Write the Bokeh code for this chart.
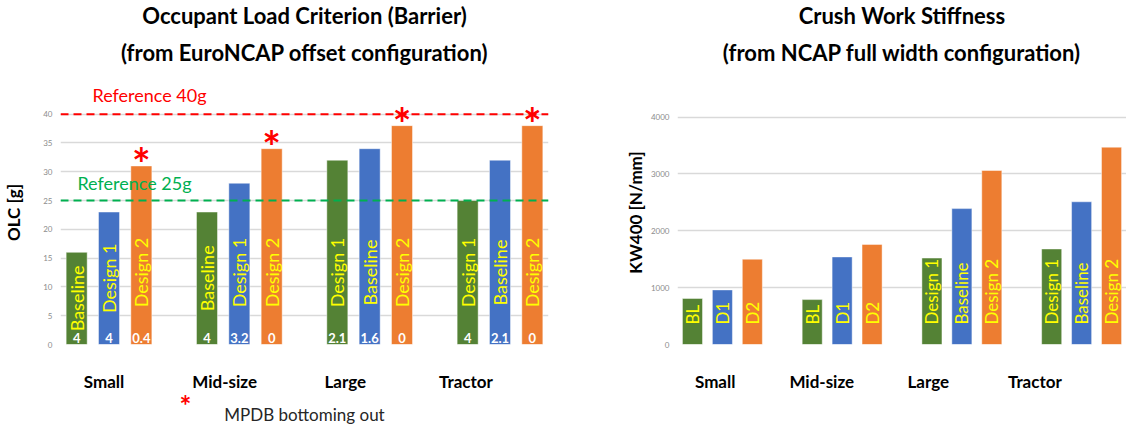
from math import pi

from bokeh.core.properties import value
from bokeh.embed import file_html
from bokeh.layouts import row
from bokeh.models import (ColumnDataSource, FixedTicker, Label, LinearAxis,
                          Range1d, Span, Title)
from bokeh.plotting import figure
from bokeh.resources import INLINE

categories = ["Small", "Mid-size", "Large", "Tractor"]

# Occupant Load Criterion [g], three bars per vehicle class (green, blue, orange)
olc_green = [16, 23, 32, 25]
olc_blue = [23, 28, 34, 32]
olc_orange = [31, 34, 38, 38]
olc_green_names = ["Baseline", "Baseline", "Design 1", "Design 1"]
olc_blue_names = ["Design 1", "Design 1", "Baseline", "Baseline"]
olc_orange_names = ["Design 2", "Design 2", "Design 2", "Design 2"]
olc_green_notes = ["4", "4", "2.1", "4"]
olc_blue_notes = ["4", "3.2", "1.6", "2.1"]
olc_orange_notes = ["0.4", "0", "0", "0"]
olc_ticks = [0, 5, 10, 15, 20, 25, 30, 35, 40]
olc_references = [40, 25]
olc_reference_names = ["Reference 40g", "Reference 25g"]
olc_reference_colors = ["#FF0000", "#00B050"]

# Crush work stiffness KW400 [N/mm]
kw_green = [810, 790, 1520, 1680]
kw_blue = [960, 1540, 2390, 2510]
kw_orange = [1500, 1760, 3060, 3470]
kw_green_names = ["BL", "BL", "Design 1", "Design 1"]
kw_blue_names = ["D1", "D1", "Baseline", "Baseline"]
kw_orange_names = ["D2", "D2", "Design 2", "Design 2"]
kw_ticks = [0, 1000, 2000, 3000, 4000]

COLORS = ["#548235", "#4472C4", "#ED7D31"]
FONT = "Lato"
GRID = "#D9D9D9"
N_SLOTS = 3


def bar_positions(slot, gap):
    """Centre of a bar: one unit per bar, `gap` units between vehicle classes."""
    return [g * (N_SLOTS + gap) + slot + 0.5 for g in range(len(categories))]


def plain_axis(ax):
    ax.axis_line_color = None
    ax.major_tick_line_color = None
    ax.minor_tick_line_color = None
    ax.major_tick_out = 0
    ax.major_tick_in = 0


def base_figure(width, border_left, border_right, y_end, gap, label_range, ticks,
                y_label, label_standoff, title_lines, title_offset):
    x_end = len(categories) * N_SLOTS + (len(categories) - 1) * gap
    p = figure(width=width, height=427, output_backend="svg", toolbar_location=None,
               x_range=Range1d(0, x_end), y_range=Range1d(0, y_end),
               x_axis_location=None, title=None,
               min_border_left=border_left, min_border_right=border_right,
               min_border_bottom=80, min_border_top=80)
    p.outline_line_color = None
    p.background_fill_color = "white"
    p.border_fill_color = "white"
    p.xgrid.visible = False
    p.ygrid.ticker = FixedTicker(ticks=ticks)
    p.ygrid.grid_line_color = GRID
    p.ygrid.grid_line_width = 1.5

    # two centred title lines, the second one nearest the plot
    for text, standoff in zip(reversed(title_lines), (29, -12)):
        p.add_layout(Title(text=text, align="center", offset=title_offset,
                           standoff=standoff, text_font=FONT, text_font_size="22px",
                           text_font_style="bold", text_color="black"), "above")

    yax = p.yaxis[0]
    plain_axis(yax)
    yax.ticker = FixedTicker(ticks=ticks)
    yax.major_label_text_font = FONT
    yax.major_label_text_font_size = "8px"
    yax.major_label_text_color = "#8C8C8C"
    yax.major_label_standoff = 8
    yax.axis_label = y_label
    yax.axis_label_text_font = FONT
    yax.axis_label_text_font_size = "17px"
    yax.axis_label_text_font_style = "bold"
    yax.axis_label_text_color = "black"
    yax.axis_label_standoff = label_standoff

    # Category names on their own axis below the bars
    p.extra_x_ranges = {"lbl": Range1d(*label_range)}
    xax = LinearAxis(x_range_name="lbl",
                     ticker=FixedTicker(ticks=[i + 0.5 for i in range(len(categories))]),
                     major_label_overrides={i + 0.5: c for i, c in enumerate(categories)})
    plain_axis(xax)
    xax.major_label_standoff = 26
    xax.major_label_text_font = FONT
    xax.major_label_text_font_size = "17px"
    xax.major_label_text_font_style = "bold"
    xax.major_label_text_color = "black"
    p.add_layout(xax, "below")
    return p


def add_bars(p, series, names, gap, bar_width, name_size, name_y=None, name_cap=None):
    sources = []
    for slot, (color, vals, labels) in enumerate(zip(COLORS, series, names)):
        src = ColumnDataSource(dict(x=bar_positions(slot, gap), top=vals, name=labels))
        p.vbar(x="x", top="top", width=bar_width, source=src, fill_color=color,
               line_color="#FFFFFF", line_alpha=0.45, line_width=1)
        if name_cap is not None:
            # series name centred in the bar, but no higher than name_cap
            src.data["name_y"] = [min(v / 2, name_cap) for v in vals]
            p.text(x="x", y="name_y", text="name", source=src, angle=pi / 2,
                   text_align="center", text_baseline="middle", text_color="#FFFF00",
                   text_font=value(FONT), text_font_size=name_size)
        else:
            p.text(x="x", y=name_y, text="name", source=src, angle=pi / 2,
                   text_align="left", text_baseline="middle", text_color="#FFFF00",
                   text_font=value(FONT), text_font_size=name_size)
        sources.append(src)
    return sources


# ---- Left: Occupant Load Criterion ----
OLC_GAP = 1.03
left = base_figure(width=560, border_left=60, border_right=12, y_end=45.84, gap=OLC_GAP,
                   label_range=(0.139, 4.185), ticks=olc_ticks, y_label="OLC [g]",
                   label_standoff=16, title_offset=9,
                   title_lines=["Occupant Load Criterion (Barrier)",
                                "(from EuroNCAP offset configuration)"])

for level, color in zip(olc_references, olc_reference_colors):
    left.add_layout(Span(location=level, dimension="width", line_color=color,
                         line_dash="8 5", line_width=2))

left_sources = add_bars(left, [olc_green, olc_blue, olc_orange],
                        [olc_green_names, olc_blue_names, olc_orange_names],
                        gap=OLC_GAP, bar_width=0.65, name_size="18px", name_cap=12.5)

for src, notes in zip(left_sources, [olc_green_notes, olc_blue_notes, olc_orange_notes]):
    src.data["note"] = notes
    left.text(x="x", y=0, text="note", source=src, text_align="center",
              text_baseline="bottom", y_offset=-2, text_color="white",
              text_font=value(FONT), text_font_size="13px", text_font_style="bold")

# MPDB bottoming-out marker above every Design 2 bar
left.text(x="x", y="top", text=value("*"), source=left_sources[2], text_align="center",
          text_baseline="middle", y_offset=-3, text_color="#FF0000",
          text_font=value(FONT), text_font_size="44px", text_font_style="bold")

left.add_layout(Label(x=0.404, y=43.4, x_range_name="lbl", text=olc_reference_names[0],
                      text_color=olc_reference_colors[0], text_font=FONT,
                      text_font_size="18px", text_baseline="middle"))
left.add_layout(Label(x=0.279, y=28.0, x_range_name="lbl", text=olc_reference_names[1],
                      text_color=olc_reference_colors[1], text_font=FONT,
                      text_font_size="18px", text_baseline="middle"))

# footnote: red asterisk as a tick label, its meaning as the axis label
FOOTNOTE_X = 1.175
note_ax = LinearAxis(x_range_name="lbl", ticker=FixedTicker(ticks=[FOOTNOTE_X]),
                     major_label_overrides={FOOTNOTE_X: "*"},
                     axis_label="MPDB bottoming out")
plain_axis(note_ax)
note_ax.major_label_standoff = -7
note_ax.major_label_text_font = FONT
note_ax.major_label_text_font_size = "28px"
note_ax.major_label_text_font_style = "bold"
note_ax.major_label_text_color = "#FF0000"
note_ax.axis_label_standoff = -21
note_ax.axis_label_text_font = FONT
note_ax.axis_label_text_font_size = "17px"
note_ax.axis_label_text_font_style = "normal"
note_ax.axis_label_text_color = "#262626"
left.add_layout(note_ax, "below")

# ---- Right: Crush Work Stiffness ----
KW_GAP = 1.0
right = base_figure(width=566, border_left=117, border_right=0, y_end=4643, gap=KW_GAP,
                    label_range=(0.146, 4.36), ticks=kw_ticks, y_label="KW400 [N/mm]",
                    label_standoff=2, title_offset=-4,
                    title_lines=["Crush Work Stiffness",
                                 "(from NCAP full width configuration)"])
add_bars(right, [kw_green, kw_blue, kw_orange],
         [kw_green_names, kw_blue_names, kw_orange_names],
         gap=KW_GAP, bar_width=0.67, name_size="17px", name_y=350)

layout = row(left, right)
open("out.html", "w").write(file_html(layout, INLINE))
